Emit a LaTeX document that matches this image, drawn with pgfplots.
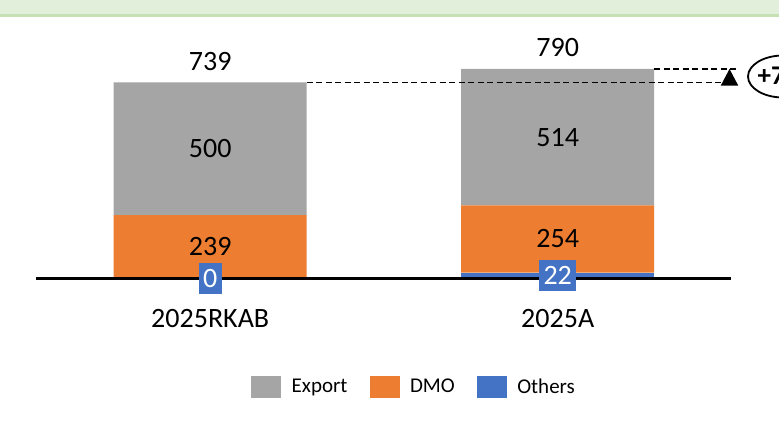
\documentclass[border=0pt]{standalone}
\usepackage{pgfplots}
\pgfplotsset{compat=1.18}
\usepackage{fontspec}
\setmainfont{Carlito}
\definecolor{cExp}{HTML}{A5A5A5}
\definecolor{cDMO}{HTML}{ED7D31}
\definecolor{cOth}{HTML}{4472C4}
\definecolor{bannerA}{HTML}{E2EFDA}
\definecolor{bannerB}{HTML}{C6E0B4}
\newcommand{\lab}{\fontsize{28}{33}\selectfont}
\begin{document}
\begin{tikzpicture}[x=1pt,y=1pt]
\path[use as bounding box, clip] (0,0) rectangle (779,445);
\fill[bannerA] (0,431) rectangle (779,445);
\fill[bannerB] (0,427.7) rectangle (779,431);
\begin{axis}[
  at={(36.45pt,166.5pt)}, anchor=south west,
  scale only axis, width=695pt, height=212.2pt,
  xmin=-0.5, xmax=1.5, ymin=0, ymax=800,
  ybar stacked, bar width=193pt,
  axis x line*=bottom, axis y line=none,
  x axis line style={draw=none},
  xtick={0,1}, xticklabels={2025RKAB,2025A},
  major tick length=0pt,
  xticklabel style={font=\lab, anchor=base, yshift=-48.8pt, inner sep=0pt},
  clip=false,
  sq/.style={legend image code/.code={\fill[##1] (0pt,-11pt) rectangle (30pt,11pt);}},
  reverse legend,
  legend columns=-1,
  legend style={draw=none, fill=none, at={(0.3087,-0.509)}, anchor=west, inner sep=0pt,
    font=\fontsize{21}{25}\selectfont, column sep=0pt, nodes={inner sep=0pt}},
  after end axis/.code={
    \draw[line width=2.2pt] (axis cs:-0.5,0) -- (axis cs:1.5,0);
    \node[font=\lab, inner sep=0pt] at (axis cs:0,489) {500};
    \node[font=\lab, inner sep=0pt] at (axis cs:1,533) {514};
    \node[font=\lab, inner sep=0pt] at (axis cs:0,119.5) {239};
    \node[font=\lab, inner sep=0pt] at (axis cs:1,149) {254};
    \node[font=\lab, fill=cOth, text=white, inner xsep=4.5pt, inner ysep=0pt, minimum height=31pt] at (axis cs:0,0) {0};
    \node[font=\lab, fill=cOth, text=white, inner xsep=4.5pt, inner ysep=0pt, minimum height=31pt] at (axis cs:1,11) {22};
    \node[font=\lab, anchor=south, inner sep=0pt, yshift=12pt] at (axis cs:0,739) {739};
    \node[font=\lab, anchor=south, inner sep=0pt, yshift=12pt] at (axis cs:1,790) {790};
    \draw[dash pattern=on 6pt off 3.5pt, line width=1.1pt] (axis cs:0.2777,739) -- (axis cs:1.4944,739);
    \draw[dash pattern=on 6pt off 3.5pt, line width=1.1pt] (axis cs:1.2777,790) -- (axis cs:1.5188,790);
    \fill (axis cs:1.4691,727) -- (axis cs:1.5197,727) -- (axis cs:1.4944,790) -- cycle;
  },
]
\addplot[fill=cOth, draw=none, sq] coordinates {(0,0) (1,22)};
\addlegendentry{\hspace{10.5pt}Others}
\addplot[fill=cDMO, draw=none, sq] coordinates {(0,239) (1,254)};
\addlegendentry{\hspace{10.5pt}DMO\rule{22pt}{0pt}}
\addplot[fill=cExp, draw=none, sq] coordinates {(0,500) (1,514)};
\addlegendentry{\hspace{10.5pt}Export\rule{22pt}{0pt}}
\end{axis}
\draw[line width=1.8pt] (783,368.5) ellipse [x radius=35, y radius=21];
\node[anchor=base west, inner sep=0pt, font=\bfseries\fontsize{27}{30}\selectfont] at (757.5,360) {+7\%};
\end{tikzpicture}
\end{document}
